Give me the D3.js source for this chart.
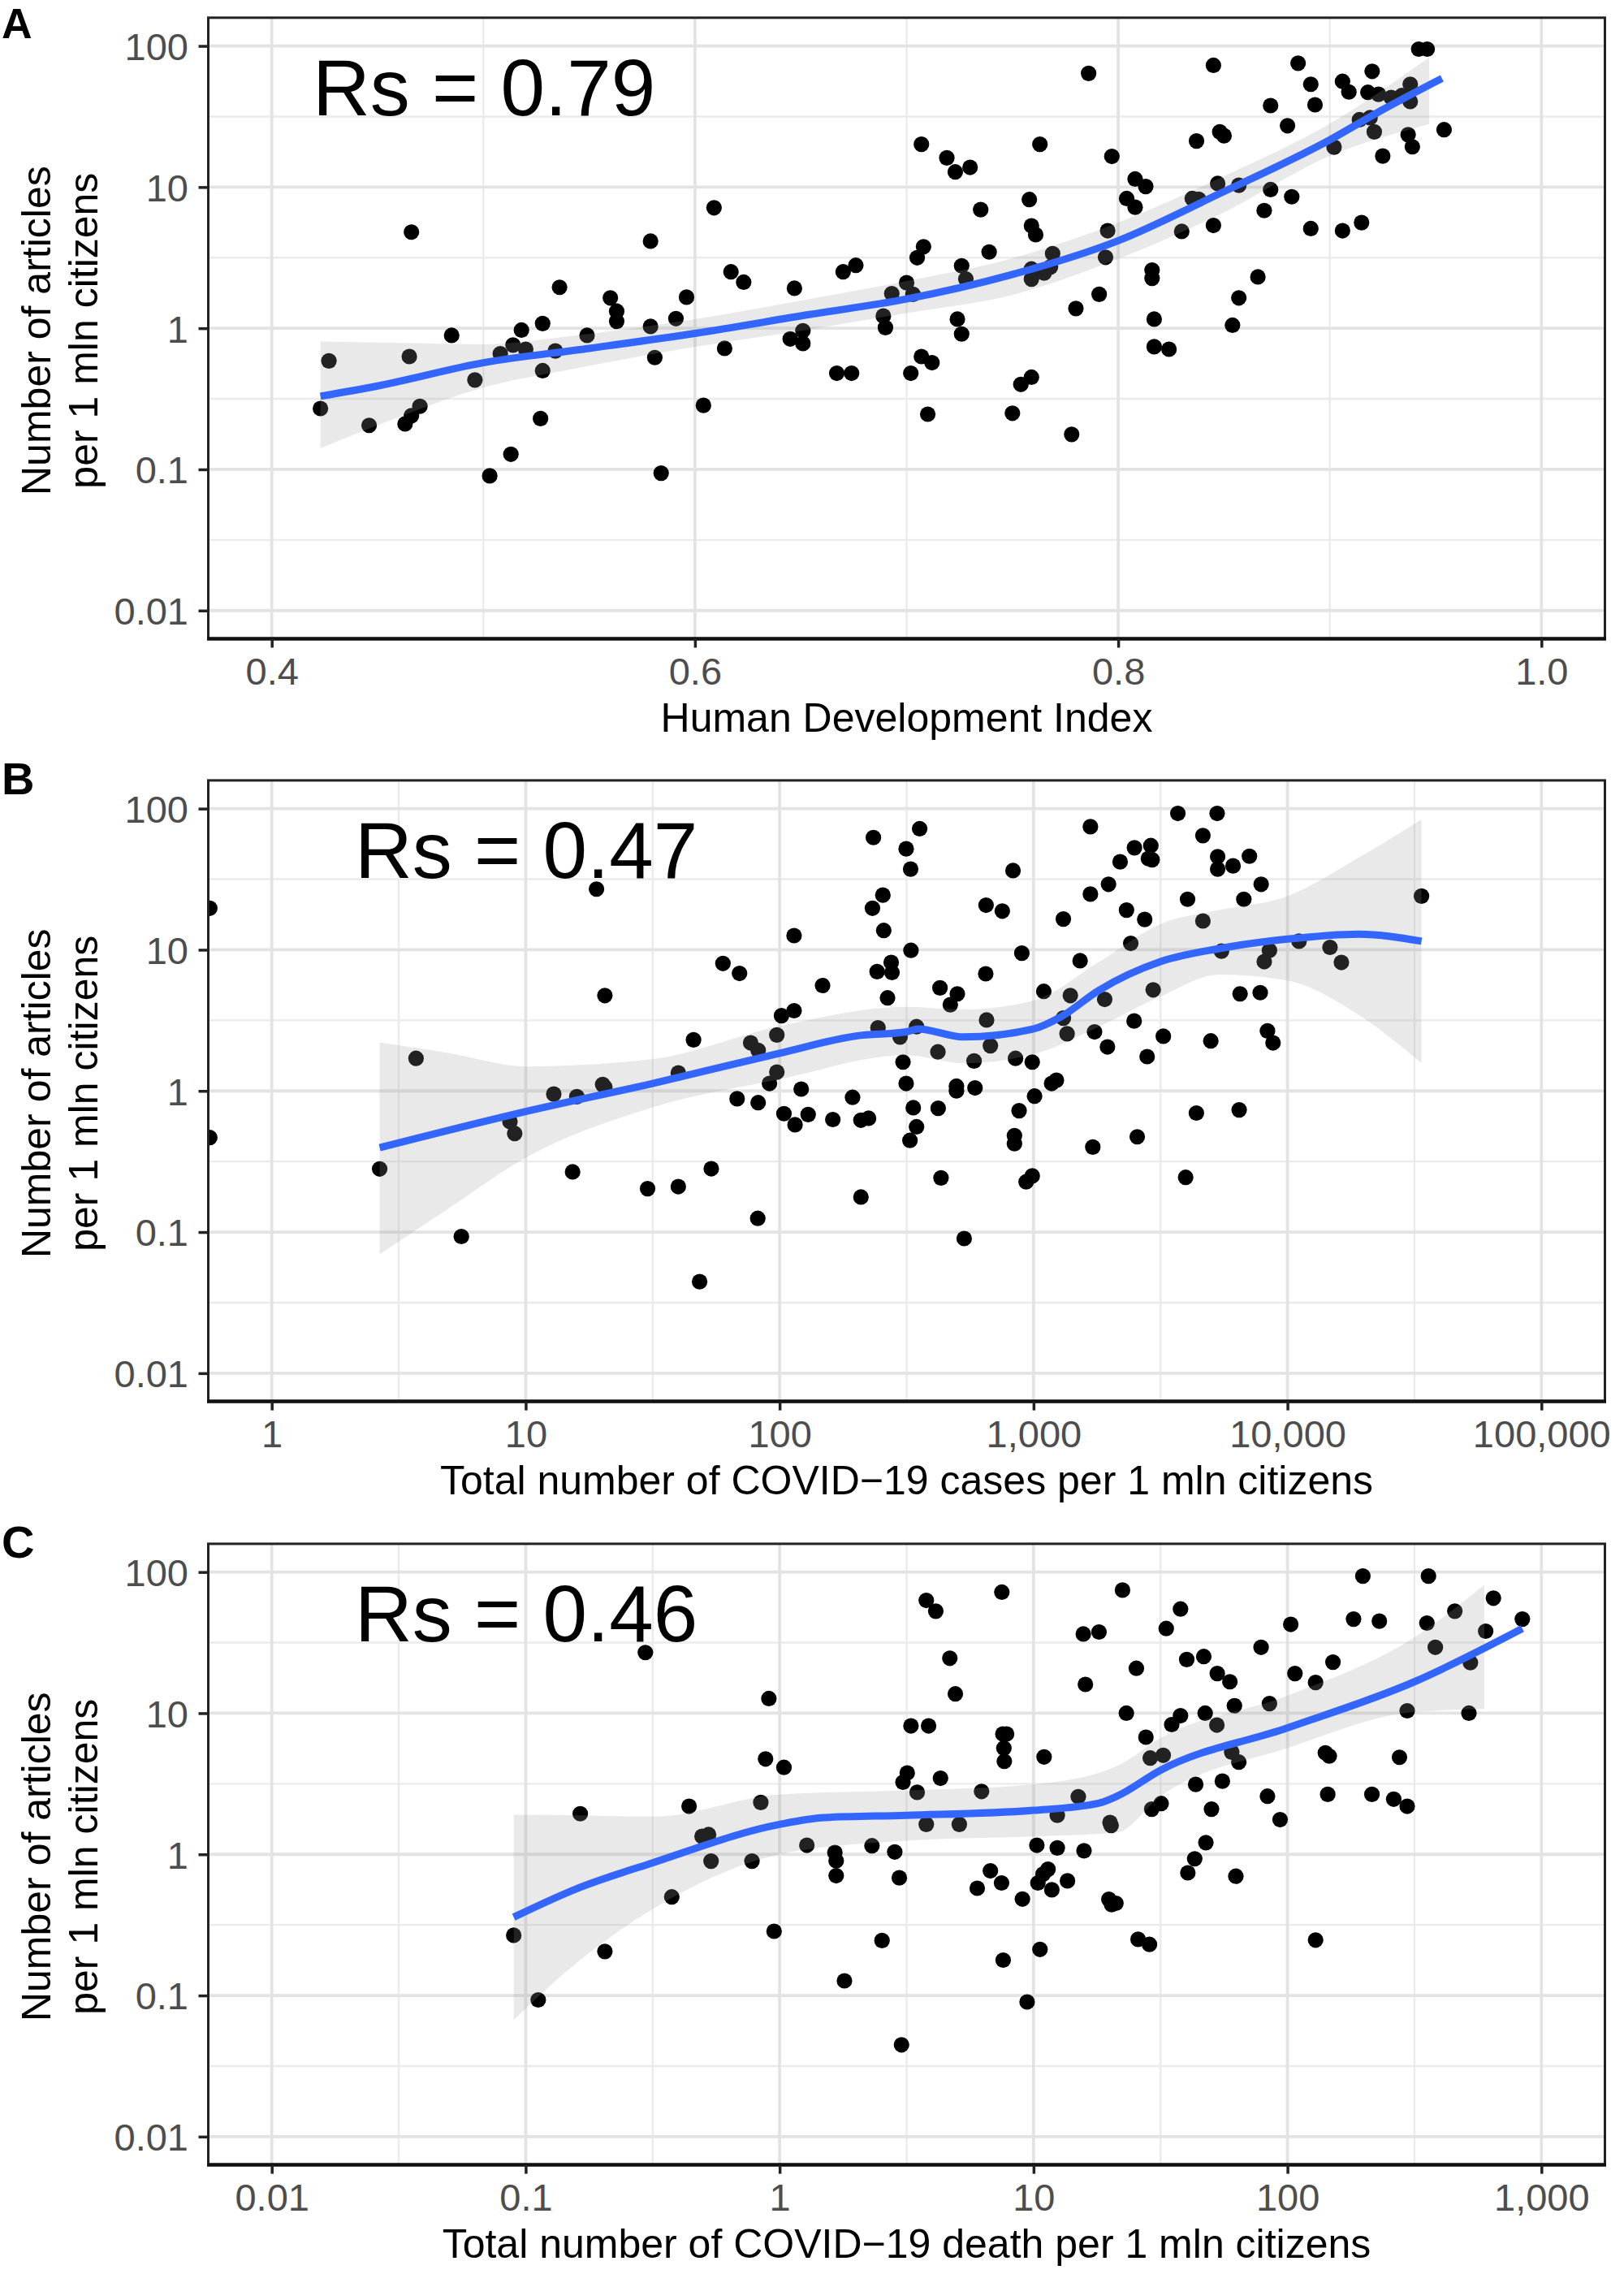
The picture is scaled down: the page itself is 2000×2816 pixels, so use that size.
<!DOCTYPE html>
<html><head><meta charset="utf-8">
<script src="https://cdn.jsdelivr.net/npm/d3@7"></script>
<style>
body{margin:0;background:#fff}
svg{display:block}
text{font-family:"Liberation Sans",Arial,Helvetica,sans-serif}
</style>
</head><body>
<svg id="chart" width="2000" height="2816"></svg>
<script>
// ---------------- DATA ----------------
const yTicks = [0.01, 0.1, 1, 10, 100];
const yTickLabels = ["0.01", "0.1", "1", "10", "100"];

const hdiTicks = [0.4, 0.6, 0.8, 1.0];
const hdiTickLabels = ["0.4", "0.6", "0.8", "1.0"];
const hdiMinor = [0.5, 0.7, 0.9];
const casesTicks = [1, 10, 100, 1000, 10000, 100000];
const casesTickLabels = ["1", "10", "100", "1,000", "10,000", "100,000"];
const deathsTicks = [0.01, 0.1, 1, 10, 100, 1000];
const deathsTickLabels = ["0.01", "0.1", "1", "10", "100", "1,000"];

const panelLetters = ["A", "B", "C"];
const rsLabels = ["Rs = 0.79", "Rs = 0.47", "Rs = 0.46"];
const xTitles = ["Human Development Index",
  "Total number of COVID\u221219 cases per 1 mln citizens",
  "Total number of COVID\u221219 death per 1 mln citizens"];
const yTitleLines = ["Number of articles", "per 1 mln citizens"];

// Panel A: [HDI, articles per 1 mln]
const hdiPoints = [
 [0.427,0.587],[0.423,0.27],[0.446,0.205],[0.466,4.8],[0.465,0.63],[0.463,0.21],[0.466,0.24],[0.470,0.28],[0.485,0.89],[0.496,0.43],
 [0.503,0.09],[0.513,0.128],[0.508,0.66],[0.514,0.76],[0.518,0.97],[0.520,0.71],[0.528,1.08],[0.528,0.50],[0.527,0.229],[0.534,0.69],
 [0.536,1.95],[0.549,0.89],[0.560,1.64],[0.563,1.32],[0.563,1.12],[0.579,4.14],[0.579,1.03],[0.581,0.62],[0.584,0.094],[0.591,1.17],
 [0.596,1.66],[0.604,0.284],[0.609,7.14],[0.614,0.72],[0.617,2.51],[0.623,2.12],[0.645,0.84],[0.647,1.92],[0.651,0.96],[0.651,0.78],
 [0.667,0.48],[0.674,0.48],[0.670,2.51],[0.676,2.79],[0.689,1.22],[0.690,1.01],[0.700,2.1],[0.703,1.74],[0.693,1.76],[0.702,0.48],
 [0.707,20.1],[0.708,3.78],[0.705,3.16],[0.707,0.63],[0.710,0.246],[0.712,0.57],
 [0.719,16.1],[0.723,12.8],[0.730,13.8],[0.735,6.92],[0.726,2.77],[0.728,2.23],[0.739,3.47],[0.724,1.16],[0.726,0.91],
 [0.758,8.16],[0.759,5.32],[0.761,4.6],[0.763,20.1],[0.759,2.63],[0.759,2.23],[0.765,2.46],[0.769,3.38],[0.768,2.72],[0.754,0.40],
 [0.759,0.45],[0.750,0.25],[0.778,0.177],[0.780,1.38],[0.786,63.9],[0.791,1.74],[0.794,3.18],[0.795,4.91],[0.797,16.5],[0.804,8.3],
 [0.808,11.4],[0.808,7.2],[0.813,10.1],[0.816,2.58],[0.816,2.26],[0.817,1.16],[0.817,0.74],[0.824,0.71],[0.830,4.85],[0.835,8.3],
 [0.838,8.2],[0.837,21.2],[0.845,72.9],[0.847,10.6],[0.845,5.35],[0.848,24.6],[0.850,23.1],[0.857,10.3],[0.857,1.64],[0.854,1.05],
 [0.866,2.31],[0.869,6.82],[0.872,9.6],[0.872,37.8],[0.880,27.2],[0.882,8.54],[0.885,75.4],[0.891,53.5],[0.893,38.3],[0.891,5.08],
 [0.902,19.2],[0.906,56.1],[0.909,47.2],[0.906,4.91],[0.915,5.6],[0.914,30.0],[0.918,46.9],[0.920,66.1],[0.923,45.4],[0.919,31.0],
 [0.921,24.6],[0.925,16.6],[0.929,43.1],[0.934,44.5],[0.938,53.5],[0.938,40.4],[0.937,23.5],[0.939,19.3],[0.942,94.9],[0.946,94.9],
 [0.954,25.5]
];
const hdiFitX = [0.423, 0.45, 0.5, 0.55, 0.6, 0.654, 0.7, 0.749, 0.8, 0.848, 0.9, 0.925, 0.953];
const hdiFit  = [0.33, 0.39, 0.57, 0.72, 0.92, 1.25, 1.61, 2.38, 4.17, 9.0, 21.6, 35.4, 59];
const hdiBandX    = [0.423, 0.456, 0.5, 0.544, 0.6, 0.654, 0.7, 0.749, 0.8, 0.848, 0.9, 0.947];
const hdiBandLow  = [0.141, 0.223, 0.38, 0.52, 0.74, 0.98, 1.28, 1.71, 3.1, 6.4, 16.6, 28];
const hdiBandHigh = [0.805, 0.79, 0.77, 0.89, 1.16, 1.61, 2.16, 3.1, 5.6, 11.6, 28.1, 83];

// Panel B: [cases per 1 mln, articles per 1 mln]
const casesPoints = [
 [0.57,19.7],[0.57,0.467],[2.66,0.28],[3.7,1.70],[5.58,0.093],[8.67,0.607],[9.05,0.499],[12.9,0.95],[15.3,0.267],[15.9,0.91],
 [19.0,26.9],[20.5,4.74],[20.1,1.11],[20.5,1.06],[30.2,0.203],[39.9,0.21],[39.9,1.34],[45.8,2.30],[48.4,0.0445],[53.8,0.281],
 [59.8,8.0],[69.5,6.8],[68,0.88],[76.9,2.19],[82.3,1.94],[82.3,0.826],[82,0.125],[91.2,1.13],[97.5,1.36],[97.5,2.49],
 [101.7,3.41],[114,3.70],[114,12.6],[104,0.69],[115,0.576],[121.6,1.03],[129.5,0.68],[147.6,5.58],[162,0.627],[193.7,0.9],
 [209,0.62],[224,0.64],[209,0.177],[234,62.4],[232,19.7],[255,24.4],[257,13.7],[242,7.0],[275,8.13],[277,6.9],
 [266,4.56],[244,2.8],[298,2.41],[306,1.6],[315,1.13],[336,0.76],[346,0.557],[326,0.446],[315,51.9],[328,37.3],
 [356,72],[329,9.9],[346,2.85],[428,5.37],[501,4.87],[470,4.08],[650,20.7],[753,18.8],[648,6.76],[653,3.18],
 [830,36.4],[899,9.46],[676,2.09],[420,1.89],[583,1.63],[849,1.70],[988,1.6],[497,1.08],[497,1.0],[588,1.05],
 [421,0.753],[877,0.724],[1009,0.918],[841,0.482],[841,0.423],[1178,1.13],[1230,1.19],[432,0.242],[935,0.227],[988,0.25],
 [533,0.090],[1097,5.07],[1310,16.5],[1310,3.28],[1355,2.54],[1396,4.74],[1525,8.36],[1674,24.8],[1674,74.5],[1973,29.1],
 [1738,2.62],[1906,4.45],[1954,2.05],[1711,0.40],[2192,42],[2323,19.1],[2414,11.1],[2496,52.8],[2739,16.4],[2489,3.13],
 [2958,5.2],[2800,1.75],[3243,2.44],[2896,54.7],[2833,44.3],[2930,43.4],[2560,0.473],[3700,92.5],[4040,22.8],[4643,16],
 [4643,64.4],[4988,2.26],[4377,0.697],[3971,0.244],[5284,92.5],[5308,45.7],[5308,37.3],[6103,39.3],[5495,9.77],[6504,4.87],
 [6451,0.734],[7080,46],[6730,22.8],[7875,29.1],[7810,4.97],[8100,8.24],[8490,9.9],[8340,2.66],[8770,2.19],[11100,11.5],
 [14700,10.4],[16300,8.13],[33700,24.0]
];
const casesFitX = [2.66, 10, 31.6, 100, 200, 316, 351, 528, 1000, 1282, 1799, 3162, 5383, 10000, 19055, 33700];
const casesFit  = [0.396, 0.714, 1.13, 1.85, 2.45, 2.62, 2.75, 2.41, 2.75, 3.35, 5.13, 8.24, 10.2, 11.9, 12.9, 11.5];
const casesBandX    = [2.66, 5.0, 10, 31.6, 100, 316, 528, 1000, 1799, 3162, 5383, 10000, 19055, 33700];
const casesBandLow  = [0.0695, 0.148, 0.336, 0.764, 1.21, 1.79, 1.57, 1.82, 2.84, 4.66, 6.68, 6.05, 3.46, 1.57];
const casesBandHigh = [2.21, 1.85, 1.49, 1.68, 2.88, 3.94, 3.77, 4.36, 8.13, 15.2, 19.1, 24.0, 44.9, 83.8];

// Panel C: [deaths per 1 mln, articles per 1 mln]
const deathsPoints = [
 [0.0897,0.267],[0.112,0.093],[0.164,1.94],[0.205,0.205],[0.296,26.9],[0.376,0.499],[0.44,2.19],[0.495,1.34],[0.525,1.38],[0.537,0.895],
 [0.778,0.895],[0.843,2.33],[0.88,4.74],[0.907,12.7],[1.04,4.13],[0.951,0.285],[1.28,1.16],[1.65,1.03],[1.67,0.9],[1.67,0.706],
 [1.8,0.127],[2.31,1.15],[2.53,0.245],[2.84,1.04],[2.96,0.682],[3.02,0.0447],[3.06,3.24],[3.18,3.77],[3.29,8.13],[3.86,8.13],
 [3.78,63],[4.12,52.8],[3.48,2.75],[3.78,1.63],[4.68,24.5],[4.92,13.7],[4.3,3.46],[5.1,1.63],[6.24,2.79],[7.5,72],
 [7.57,7.13],[7.83,7.13],[7.64,5.66],[7.67,4.56],[6.76,0.764],[7.48,0.627],[6.0,0.575],[7.59,0.178],[9.04,0.482],[9.43,0.090],
 [10.6,0.212],[10.3,1.16],[10.4,0.627],[10.9,0.724],[11.4,0.784],[11.8,0.561],[11,4.9],[12.4,1.89],[12.4,1.11],[13.6,0.649],
 [15,2.56],[15.7,36.4],[18.1,37.6],[16,16],[15.8,1.06],[20,1.68],[20.2,1.6],[19.8,0.48],[20.3,0.44],[21.1,0.45],
 [22.4,74.5],[23.2,10.0],[25.4,20.8],[25.8,0.25],[28.6,0.23],[27.7,6.76],[28.8,4.81],[32.4,5.03],[29.2,2.09],[31.8,2.29],
 [33.3,39.8],[37.9,54.7],[35,8.3],[37.9,9.6],[40.1,24],[46.8,25.2],[52.9,19.1],[59.3,16.7],[47.4,10],[52.7,8.24],
 [61.8,11.3],[43.5,3.13],[55.4,3.3],[60.3,5.3],[64.3,4.5],[50.2,2.09],[47.7,1.21],[43.1,0.93],[40.5,0.74],[62.6,0.70],
 [78.7,29.3],[84.9,11.7],[83.4,2.58],[93.5,1.76],[103,42.6],[107,19.1],[129,16.5],[151,23],[141,5.24],[146,4.97],
 [144,2.66],[129,0.247],[182,46.4],[198,93.6],[230,44.9],[215,2.66],[262,2.46],[296,2.19],[276,4.87],[296,10.4],
 [359,93.6],[354,43.5],[382,29.3],[456,52.8],[525,22.8],[518,10.0],[647,65.3],[603,38.1],[841,46.4]
];
const deathsFitX = [0.0897, 0.158, 0.316, 1, 1.5, 3.16, 10, 18, 21.3, 31.6, 100, 316, 841];
const deathsFit  = [0.359, 0.569, 0.871, 1.63, 1.82, 1.89, 2.05, 2.30, 2.58, 3.94, 7.87, 16.7, 39.8];
const deathsBandX    = [0.0897, 0.158, 0.316, 1, 3.16, 10, 21.3, 31.6, 100, 316, 596];
const deathsBandLow  = [0.0671, 0.169, 0.409, 1.0, 1.25, 1.34, 1.43, 2.58, 5.66, 10.2, 10.7];
const deathsBandHigh = [1.91, 1.89, 1.85, 2.66, 2.84, 3.13, 4.22, 6.68, 13.3, 34.5, 81.1];

// ---------------- LAYOUT ----------------
const panelLeft = 256.5, panelRight = 1976.5;
const panelTops = [21.8, 960.9, 1900.9];
const panelH = 764.7;
const FONT_TICK = 47, FONT_TITLE = 50;
const letterFont = [52, 56, 56];
const letterBaseline = [47, 17.4, 17.4];   // A kept fully inside the page; B, C relative to panel top

const panels = [
  { x: d3.scaleLinear().domain([0.37, 1.03]), ticks: hdiTicks, labels: hdiTickLabels, minor: hdiMinor,
    points: hdiPoints, fitX: hdiFitX, fit: hdiFit, bandX: hdiBandX, lo: hdiBandLow, hi: hdiBandHigh, rsX: 385 },
  { x: d3.scaleLog().domain([Math.pow(10, -0.25), Math.pow(10, 5.25)]), ticks: casesTicks, labels: casesTickLabels,
    minor: casesTicks.map(v => v * Math.sqrt(10)),
    points: casesPoints, fitX: casesFitX, fit: casesFit, bandX: casesBandX, lo: casesBandLow, hi: casesBandHigh, rsX: 437 },
  { x: d3.scaleLog().domain([Math.pow(10, -2.25), Math.pow(10, 3.25)]), ticks: deathsTicks, labels: deathsTickLabels,
    minor: deathsTicks.map(v => v * Math.sqrt(10)),
    points: deathsPoints, fitX: deathsFitX, fit: deathsFit, bandX: deathsBandX, lo: deathsBandLow, hi: deathsBandHigh, rsX: 437 }
];

const svg = d3.select("#chart");
svg.append("rect").attr("width", 2000).attr("height", 2816).attr("fill", "#fff");
const yMinor = yTicks.map(v => v * Math.sqrt(10));

panels.forEach((p, i) => {
  const top = panelTops[i], bottom = top + panelH;
  const x = p.x.range([panelLeft, panelRight]);
  const y = d3.scaleLog().domain([Math.pow(10, -2.2), Math.pow(10, 2.2)]).range([bottom, top]);
  const xd = x.domain(), yd = y.domain();
  const inX = v => v >= Math.min(xd[0], xd[1]) && v <= Math.max(xd[0], xd[1]);
  const inY = v => v >= yd[0] && v <= yd[1];
  const g = svg.append("g");

  const clipId = "clip" + i;
  svg.append("clipPath").attr("id", clipId).append("rect")
    .attr("x", panelLeft).attr("y", top).attr("width", panelRight - panelLeft).attr("height", panelH);

  // grid
  const grid = g.append("g");
  grid.selectAll(".ymin").data(yMinor.filter(inY)).join("line")
    .attr("x1", panelLeft).attr("x2", panelRight).attr("y1", d => y(d)).attr("y2", d => y(d))
    .attr("stroke", "#ebebeb").attr("stroke-width", 2.4);
  grid.selectAll(".xmin").data(p.minor.filter(inX)).join("line")
    .attr("y1", top).attr("y2", bottom).attr("x1", d => x(d)).attr("x2", d => x(d))
    .attr("stroke", "#ebebeb").attr("stroke-width", 2.4);
  grid.selectAll(".ymaj").data(yTicks).join("line")
    .attr("x1", panelLeft).attr("x2", panelRight).attr("y1", d => y(d)).attr("y2", d => y(d))
    .attr("stroke", "#e3e3e3").attr("stroke-width", 3.8);
  grid.selectAll(".xmaj").data(p.ticks).join("line")
    .attr("y1", top).attr("y2", bottom).attr("x1", d => x(d)).attr("x2", d => x(d))
    .attr("stroke", "#e3e3e3").attr("stroke-width", 3.8);

  const plot = g.append("g").attr("clip-path", `url(#${clipId})`);
  // points
  plot.selectAll("circle").data(p.points).join("circle")
    .attr("cx", d => x(d[0])).attr("cy", d => y(d[1])).attr("r", 9.6).attr("fill", "#000");
  // ribbon
  const band = p.bandX.map((v, k) => [v, p.lo[k], p.hi[k]]);
  plot.append("path").datum(band)
    .attr("d", d3.area().x(d => x(d[0])).y0(d => y(d[1])).y1(d => y(d[2])).curve(d3.curveMonotoneX))
    .attr("fill", "#999999").attr("fill-opacity", 0.22);
  // smooth line
  const fit = p.fitX.map((v, k) => [v, p.fit[k]]);
  plot.append("path").datum(fit)
    .attr("d", d3.line().x(d => x(d[0])).y(d => y(d[1])).curve(d3.curveMonotoneX))
    .attr("fill", "none").attr("stroke", "#3366FF").attr("stroke-width", 9);

  // Rs annotation
  g.append("text").attr("x", p.rsX).attr("y", top + 120).attr("font-size", 98).attr("fill", "#000")
    .text(rsLabels[i]);

  // border
  g.append("rect").attr("x", panelLeft).attr("y", top).attr("width", panelRight - panelLeft).attr("height", panelH)
    .attr("fill", "none").attr("stroke", "#222").attr("stroke-width", 3);
  g.append("line").attr("x1", panelLeft - 1.5).attr("x2", panelRight + 1.5).attr("y1", bottom).attr("y2", bottom)
    .attr("stroke", "#111").attr("stroke-width", 4.5);

  // axes
  const xAxis = g.append("g").attr("transform", `translate(0,${bottom})`)
    .call(d3.axisBottom(x).tickValues(p.ticks).tickFormat((d, k) => p.labels[k]).tickSize(11).tickPadding(12.5));
  const yAxis = g.append("g").attr("transform", `translate(${panelLeft},0)`)
    .call(d3.axisLeft(y).tickValues(yTicks).tickFormat((d, k) => yTickLabels[k]).tickSize(12).tickPadding(12.5));
  [xAxis, yAxis].forEach(a => {
    a.select(".domain").remove();
    a.selectAll(".tick line").attr("stroke", "#222").attr("stroke-width", 3.5);
    a.selectAll(".tick text").attr("font-size", FONT_TICK).attr("fill", "#4d4d4d")
      .attr("font-family", '"Liberation Sans",Arial,Helvetica,sans-serif');
  });
  yAxis.selectAll(".tick text").attr("dy", "0.36em");

  // titles
  g.append("text").attr("x", (panelLeft + panelRight) / 2).attr("y", bottom + 114)
    .attr("text-anchor", "middle").attr("font-size", FONT_TITLE).attr("fill", "#000").text(xTitles[i]);
  const yt = g.append("text").attr("transform", `translate(0,${(top + bottom) / 2 + 3}) rotate(-90)`)
    .attr("text-anchor", "middle").attr("font-size", FONT_TITLE).attr("fill", "#000");
  yt.append("tspan").attr("x", 0).attr("y", 62).text(yTitleLines[0]);
  yt.append("tspan").attr("x", 0).attr("y", 120).text(yTitleLines[1]);

  // panel letter
  const ly = i === 0 ? letterBaseline[0] : top + letterBaseline[i];
  g.append("text").attr("x", 2).attr("y", ly).attr("font-size", letterFont[i]).attr("font-weight", "bold")
    .attr("fill", "#000").text(panelLetters[i]);
});
</script>
</body></html>
